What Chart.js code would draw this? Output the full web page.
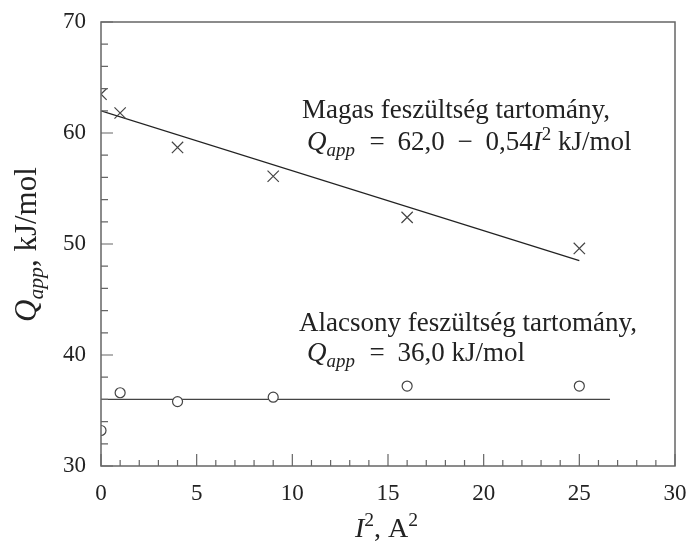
<!DOCTYPE html>
<html>
<head>
<meta charset="utf-8">
<script src="https://cdn.jsdelivr.net/npm/chart.js@4"></script>
<style>
  html, body { margin: 0; padding: 0; background: #fff; }
  #wrap { width: 686px; height: 545px; }
</style>
</head>
<body>
<div id="wrap"><canvas id="chart"></canvas></div>
<script>
// Mért pontok: I^2 (A^2) és Q_app (kJ/mol)
const currentSq = [0, 1, 4, 9, 16, 25];
const qHigh = [63.5, 61.8, 58.7, 56.1, 52.4, 49.6];
const qLow = [33.2, 36.6, 35.8, 36.2, 37.2, 37.2];

// Illesztett egyenesek végpontjai
const fitHighX = [0, 25];
const fitHighY = [62.0, 48.5];
const fitLowX = [0, 26.6];
const fitLowY = [36.0, 36.0];

const xTicks = [0, 5, 10, 15, 20, 25, 30];
const yTicks = [30, 40, 50, 60, 70];

const SERIF = '"Liberation Serif", "Times New Roman", serif';
const INK = '#222';
const AXIS = '#666';

const toPoints = (xs, ys) => xs.map((x, i) => ({ x: x, y: ys[i] }));

// Szöveg kiírása dőlt / alsó index / felső index darabokból
function drawRuns(ctx, runs, x, y, size) {
    let cx = x;
    runs.forEach(r => {
        if (r.gap) { cx += r.gap; return; }
        const s = (r.sub || r.sup) ? size * 0.7 : size;
        ctx.font = (r.italic ? 'italic ' : '') + s + 'px ' + SERIF;
        let dy = 0;
        if (r.sub) dy = size * 0.22;
        if (r.sup) dy = -size * 0.38;
        ctx.fillText(r.t, cx, y + dy);
        cx += ctx.measureText(r.t).width;
    });
}

const framePlugin = {
    id: 'frame',
    afterDraw(chart) {
        const { ctx, chartArea: a, scales } = chart;
        const xs = scales.x, ys = scales.y;
        ctx.save();
        ctx.strokeStyle = AXIS;
        ctx.lineWidth = 1.5;
        ctx.strokeRect(a.left, a.top, a.right - a.left, a.bottom - a.top);

        // befelé mutató osztások
        ctx.lineWidth = 1.2;
        ctx.beginPath();
        for (let v = 0; v <= 30; v++) {
            const px = xs.getPixelForValue(v);
            const len = v % 5 === 0 ? 12 : 6;
            ctx.moveTo(px, a.bottom);
            ctx.lineTo(px, a.bottom - len);
        }
        for (let v = 30; v <= 70; v += 2) {
            const py = ys.getPixelForValue(v);
            const len = v % 10 === 0 ? 12 : 7;
            ctx.moveTo(a.left, py);
            ctx.lineTo(a.left + len, py);
        }
        ctx.stroke();

        ctx.fillStyle = INK;
        ctx.textBaseline = 'alphabetic';
        ctx.textAlign = 'left';

        // feliratok a görbék mellett
        ctx.font = '27px ' + SERIF;
        ctx.fillText('Magas feszültség tartomány,', 302, 118);
        drawRuns(ctx, [
            { t: 'Q', italic: true }, { t: 'app', italic: true, sub: true },
            { gap: 8 }, { t: ' =' }, { gap: 6 }, { t: ' 62,0' }, { gap: 6 }, { t: ' −' }, { gap: 6 },
            { t: ' 0,54' }, { t: 'I', italic: true }, { t: '2', sup: true },
            { t: ' kJ/mol' }
        ], 307, 150, 27);

        ctx.font = '27px ' + SERIF;
        ctx.fillText('Alacsony feszültség tartomány,', 299, 331);
        drawRuns(ctx, [
            { t: 'Q', italic: true }, { t: 'app', italic: true, sub: true },
            { gap: 8 }, { t: ' =' }, { gap: 6 }, { t: ' 36,0 kJ/mol' }
        ], 307, 361, 27);

        // x tengely címe
        drawRuns(ctx, [
            { t: 'I', italic: true }, { t: '2', sup: true }, { t: ', A' }, { t: '2', sup: true }
        ], 355, 537, 28);

        // y tengely címe
        ctx.translate(36, 322);
        ctx.rotate(-Math.PI / 2);
        drawRuns(ctx, [
            { t: 'Q', italic: true }, { t: 'app', italic: true, sub: true }, { t: ', kJ/mol' }
        ], 0, 0, 31);
        ctx.restore();
    }
};

// a szélső címkék ne szűkítsék a rajzterületet
const noOverhang = s => {
    s.paddingLeft = 0;
    s.paddingRight = 0;
    s.paddingTop = 0;
    s.paddingBottom = 0;
};

new Chart(document.getElementById('chart').getContext('2d'), {
    type: 'scatter',
    data: {
        datasets: [
            {
                label: 'Magas',
                data: toPoints(currentSq, qHigh),
                pointStyle: 'crossRot',
                radius: 8,
                borderColor: '#444',
                borderWidth: 1.2
            },
            {
                label: 'Alacsony',
                data: toPoints(currentSq, qLow),
                pointStyle: 'circle',
                radius: 5,
                borderColor: '#444',
                backgroundColor: '#fff',
                borderWidth: 1.2
            },
            {
                label: 'Illesztés magas',
                data: toPoints(fitHighX, fitHighY),
                showLine: true,
                pointRadius: 0,
                borderColor: '#222',
                borderWidth: 1.3
            },
            {
                label: 'Illesztés alacsony',
                data: toPoints(fitLowX, fitLowY),
                showLine: true,
                pointRadius: 0,
                borderColor: '#444',
                borderWidth: 1.3
            }
        ]
    },
    options: {
        responsive: true,
        maintainAspectRatio: false,
        animation: false,
        layout: { padding: { top: 22, right: 11, left: 0, bottom: 0 } },
        plugins: { legend: { display: false }, tooltip: { enabled: false } },
        scales: {
            x: {
                type: 'linear',
                min: 0,
                max: 30,
                afterBuildTicks: s => { s.ticks = xTicks.map(v => ({ value: v })); },
                afterFit: s => { s.height = 79; noOverhang(s); },
                grid: { display: false, drawTicks: false },
                border: { display: false },
                ticks: { color: INK, padding: 14, font: { family: SERIF, size: 23 }, maxRotation: 0 }
            },
            y: {
                type: 'linear',
                min: 30,
                max: 70,
                afterBuildTicks: s => { s.ticks = yTicks.map(v => ({ value: v })); },
                afterFit: s => { s.width = 101; noOverhang(s); },
                grid: { display: false, drawTicks: false },
                border: { display: false },
                ticks: { color: INK, padding: 15, font: { family: SERIF, size: 23 } }
            }
        }
    },
    plugins: [framePlugin]
});
</script>
</body>
</html>
